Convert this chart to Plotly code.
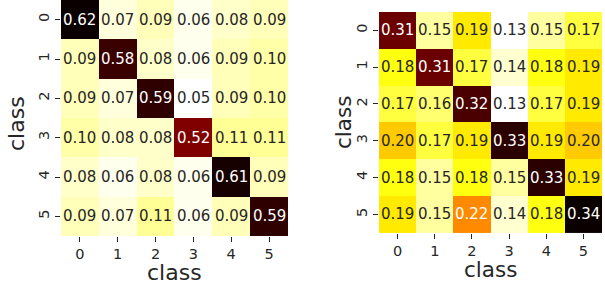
import plotly.graph_objects as go

classes = [0, 1, 2, 3, 4, 5]
tick_labels = ["0", "1", "2", "3", "4", "5"]

left_values = [
    [0.62, 0.07, 0.09, 0.06, 0.08, 0.09],
    [0.09, 0.58, 0.08, 0.06, 0.09, 0.10],
    [0.09, 0.07, 0.59, 0.05, 0.09, 0.10],
    [0.10, 0.08, 0.08, 0.52, 0.11, 0.11],
    [0.08, 0.06, 0.08, 0.06, 0.61, 0.09],
    [0.09, 0.07, 0.11, 0.06, 0.09, 0.59],
]

right_values = [
    [0.31, 0.15, 0.19, 0.13, 0.15, 0.17],
    [0.18, 0.31, 0.17, 0.14, 0.18, 0.19],
    [0.17, 0.16, 0.32, 0.13, 0.17, 0.19],
    [0.20, 0.17, 0.19, 0.33, 0.19, 0.20],
    [0.18, 0.15, 0.18, 0.15, 0.33, 0.19],
    [0.19, 0.15, 0.22, 0.14, 0.18, 0.34],
]

# matplotlib "hot" reversed (hot_r)
def hot(t):
    t = min(max(t, 0.0), 1.0)
    def seg(pts):
        for (x0, y0), (x1, y1) in zip(pts[:-1], pts[1:]):
            if x0 <= t <= x1:
                return y0 + (y1 - y0) * (t - x0) / (x1 - x0) if x1 > x0 else y1
        return pts[-1][1]
    r = seg([(0, 0.0416), (0.365079, 1.0), (1, 1.0)])
    g = seg([(0, 0.0), (0.365079, 0.0), (0.746032, 1.0), (1, 1.0)])
    b = seg([(0, 0.0), (0.746032, 0.0), (1, 1.0)])
    return r, g, b

def rgb_str(c):
    return "rgb(%d,%d,%d)" % tuple(round(v * 255) for v in c)

stops = [0, 1 - 0.746032, 1 - 0.365079, 1]
hot_r = [[s, rgb_str(hot(1 - s))] for s in stops]

def lum(c):
    def lin(v):
        return v / 12.92 if v <= 0.03928 else ((v + 0.055) / 1.055) ** 2.4
    r, g, b = (lin(v) for v in c)
    return 0.2126 * r + 0.7152 * g + 0.0722 * b

FONT = "DejaVu Sans"
TXT = "#262626"

fig = go.Figure()
annos = []
panels = [
    (left_values, "x", "y", [0.1008, 0.476], [0.169, 1.0]),
    (right_values, "x2", "y2", [0.6265, 0.995], [0.180, 0.958]),
]
for idx, (vals, xa, ya, xd, yd) in enumerate(panels):
    flat = [v for row in vals for v in row]
    vmin, vmax = min(flat), max(flat)
    fig.add_trace(go.Heatmap(
        z=vals, x=classes, y=classes, xaxis=xa, yaxis=ya,
        colorscale=hot_r, zmin=vmin, zmax=vmax, showscale=False,
        hoverinfo="skip",
    ))
    for i, row in enumerate(vals):
        for j, v in enumerate(row):
            c = hot(1 - (v - vmin) / (vmax - vmin))
            col = TXT if lum(c) > 0.408 else "white"
            annos.append(dict(x=classes[j], y=classes[i], xref=xa, yref=ya,
                              text="%.2f" % v, showarrow=False,
                              font=dict(family=FONT, size=15, color=col)))
    suffix = "" if idx == 0 else "2"
    axis_common = dict(showgrid=False, zeroline=False, showline=False,
                       automargin=False,
                       ticks="outside", ticklen=5, tickwidth=1, tickcolor=TXT,
                       tickfont=dict(family=FONT, size=14.5, color=TXT),
                       tickmode="array", tickvals=classes, ticktext=tick_labels)
    fig.update_layout(**{
        "xaxis" + suffix: dict(domain=xd, range=[-0.5, 5.5], anchor="y" + suffix, **axis_common),
        "yaxis" + suffix: dict(domain=yd, range=[5.5, -0.5], anchor="x" + suffix,
                               tickangle=-90, **axis_common),
    })

# axis titles
annos += [
    dict(x=174.5 / 605, y=1 - 272.5 / 284, xref="paper", yref="paper", text="class",
         showarrow=False, font=dict(family=FONT, size=22, color=TXT),
         xanchor="center", yanchor="middle"),
    dict(x=17 / 605, y=1 - 124 / 284, xref="paper", yref="paper", text="class",
         showarrow=False, font=dict(family=FONT, size=22, color=TXT), textangle=-90,
         xanchor="center", yanchor="middle"),
    dict(x=490 / 605, y=1 - 269 / 284, xref="paper", yref="paper", text="class",
         showarrow=False, font=dict(family=FONT, size=21.5, color=TXT),
         xanchor="center", yanchor="middle"),
    dict(x=343 / 605, y=1 - 123 / 284, xref="paper", yref="paper", text="class",
         showarrow=False, font=dict(family=FONT, size=21.5, color=TXT), textangle=-90,
         xanchor="center", yanchor="middle"),
]

fig.update_layout(
    template="none",
    width=605, height=284,
    margin=dict(l=0, r=0, t=0, b=0),
    paper_bgcolor="white", plot_bgcolor="white",
    annotations=annos,
    showlegend=False,
)

fig.write_html(
    "out.html",
    config={"displayModeBar": False, "staticPlot": True},
    post_script="document.body.style.margin='0';document.body.style.padding='0';",
)
